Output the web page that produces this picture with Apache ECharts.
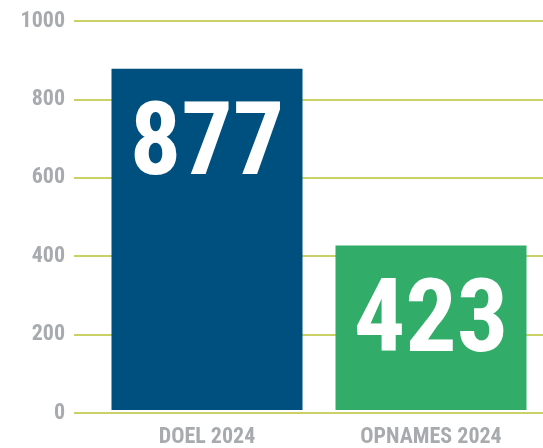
<!DOCTYPE html>
<html>
<head>
<meta charset="utf-8">
<script src="https://cdn.jsdelivr.net/npm/echarts@6/dist/echarts.min.js"></script>
<style>
  html, body { margin: 0; padding: 0; background: #fff; }
  #chart { width: 543px; height: 448px; }
</style>
</head>
<body>
<div id="chart"></div>
<script>
const categories = ['DOEL 2024', 'OPNAMES 2024'];
const values = [877, 423];
const barColors = ['#00507f', '#31ad69'];
const yTicks = [0, 200, 400, 600, 800, 1000];

const FONT = '"Roboto Condensed", "DejaVu Sans Condensed", sans-serif';
const GREY = '#a8abae';

const chart = echarts.init(document.getElementById('chart'));

chart.setOption({
  backgroundColor: '#fff',
  animation: false,
  // grid 0 only carries the gridlines + y labels, grid 1 holds the bars
  grid: [
    { left: 74, right: 0, top: 21, bottom: 35 },
    { left: 95, right: 0, top: 21, bottom: 35 },
  ],
  xAxis: [
    { gridIndex: 0, type: 'value', show: false, min: 0, max: 1 },
    {
      gridIndex: 1,
      type: 'category',
      data: categories,
      axisLine: { show: false },
      axisTick: { show: false },
      axisLabel: {
        interval: 0,
        color: GREY, fontFamily: FONT, fontWeight: 'bold', fontSize: 22, margin: 16,
      },
    },
  ],
  yAxis: [
    {
      gridIndex: 0,
      type: 'value',
      min: yTicks[0],
      max: yTicks[yTicks.length - 1],
      interval: 200,
      axisLine: { show: false },
      axisTick: { show: false },
      splitLine: { lineStyle: { color: '#c9d167', width: 2 } },
      axisLabel: {
        color: GREY, fontFamily: FONT, fontWeight: 'bold', fontSize: 22, margin: 9,
        formatter: v => String(v),
      },
    },
    {
      gridIndex: 1,
      type: 'value',
      min: 0, max: 1000,
      show: false,
      splitLine: { show: false },
    },
  ],
  series: [
    {
      type: 'bar',
      xAxisIndex: 1,
      yAxisIndex: 1,
      barWidth: 191,
      data: values.map((v, i) => ({ value: v, itemStyle: { color: barColors[i] } })),
      label: {
        show: true,
        position: ['50%', 80],
        align: 'center',
        verticalAlign: 'middle',
        color: '#fff',
        fontFamily: FONT,
        fontWeight: 'bold',
        fontSize: 102,
      },
    },
  ],
});
</script>
</body>
</html>
